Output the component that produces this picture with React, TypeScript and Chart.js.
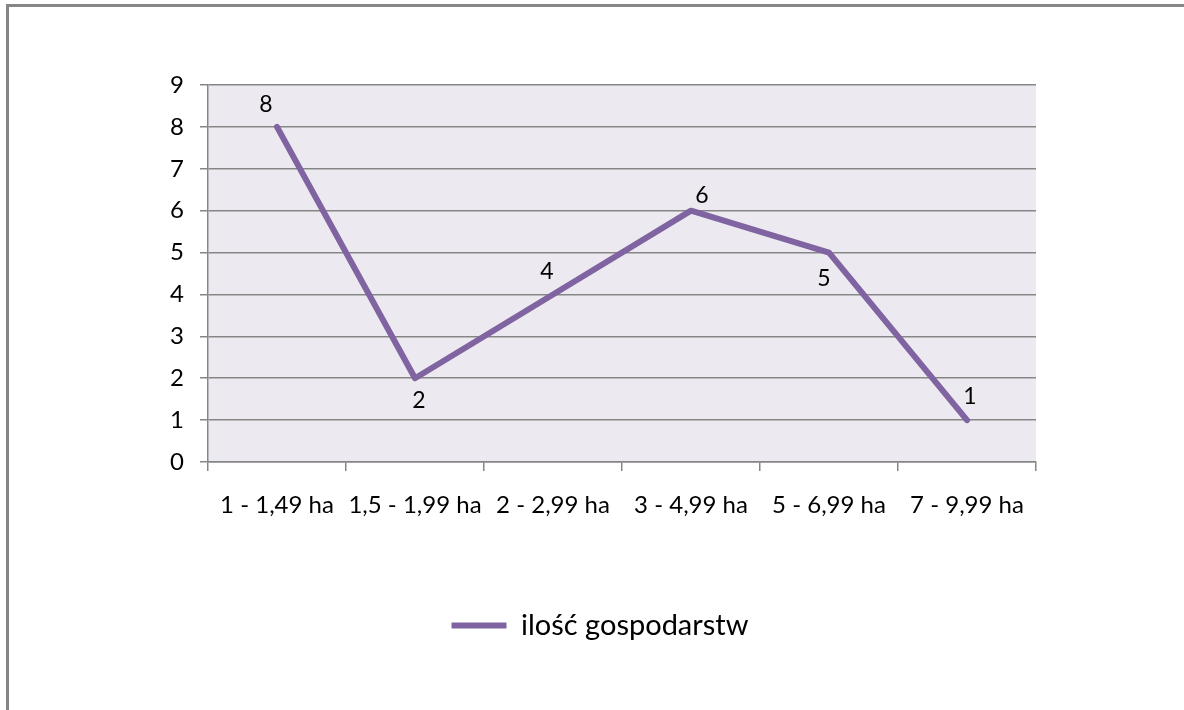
import React, { useEffect, useRef } from "react";
import { Chart, registerables } from "chart.js";

Chart.register(...registerables);

const categories = ["1 - 1,49 ha", "1,5 - 1,99 ha", "2 - 2,99 ha", "3 - 4,99 ha", "5 - 6,99 ha", "7 - 9,99 ha"];
const values = [8, 2, 4, 6, 5, 1];
const seriesName = "ilość gospodarstw";
const yTicks = [0, 1, 2, 3, 4, 5, 6, 7, 8, 9];

// label offsets (style only) relative to each point
const labelOffsets: [number, number][] = [
  [-11, -22],
  [4, 22],
  [-6, -23],
  [11, -15],
  [-5, 26],
  [3, -24],
];

const FONT = "Lato, 'Liberation Sans', sans-serif";
const LINE = "#8064A2";
const GRID = "#868686";
const PLOT_BG = "#ECEAF0";

const plotBg = {
  id: "plotBg",
  beforeDraw(chart: any) {
    const { ctx, chartArea } = chart;
    ctx.save();
    ctx.fillStyle = PLOT_BG;
    ctx.fillRect(chartArea.left, chartArea.top, chartArea.right - chartArea.left, chartArea.bottom - chartArea.top);
    ctx.restore();
  },
};

const dataLabels = {
  id: "dataLabels",
  afterDatasetsDraw(chart: any) {
    const { ctx } = chart;
    const meta = chart.getDatasetMeta(0);
    ctx.save();
    ctx.font = `23px ${FONT}`;
    ctx.fillStyle = "#000";
    ctx.textAlign = "center";
    ctx.textBaseline = "middle";
    meta.data.forEach((pt: any, i: number) => {
      const [dx, dy] = labelOffsets[i];
      ctx.fillText(String(chart.data.datasets[0].data[i]), pt.x + dx, pt.y + dy);
    });
    ctx.restore();
  },
};

export default function App() {
  const ref = useRef<HTMLCanvasElement>(null);
  useEffect(() => {
    document.body.style.margin = "0";
    document.body.style.overflow = "hidden";
    const chart = new Chart(ref.current!, {
      type: "line",
      data: {
        labels: categories,
        datasets: [
          {
            label: seriesName,
            data: values,
            borderColor: LINE,
            backgroundColor: LINE,
            borderWidth: 6,
            borderCapStyle: "round",
            borderJoinStyle: "round",
            pointRadius: 0,
            pointHoverRadius: 0,
            tension: 0,
            yAxisID: "y",
          },
        ],
      },
      options: {
        animation: false,
        responsive: false,
        layout: { padding: { left: 16, top: 85, right: 0, bottom: 60 } },
        plugins: {
          tooltip: { enabled: false },
          legend: {
            position: "bottom",
            labels: {
              usePointStyle: true,
              pointStyle: "line",
              pointStyleWidth: 55,
              padding: 7,
              color: "#000",
              font: { family: FONT, size: 29 },
            },
          },
        },
        scales: {
          x: {
            offset: true,
            grid: { offset: true, drawOnChartArea: false, drawTicks: true, tickLength: 9, color: GRID, lineWidth: 1.5 },
            border: { display: true, color: GRID, width: 1.5 },
            ticks: { color: "#000", font: { family: FONT, size: 24 }, padding: 20, maxRotation: 0, autoSkip: false },
            afterFit: (s: any) => {
              s.height = 142;
            },
          },
          y: {
            min: 0,
            max: 9,
            afterBuildTicks: (s: any) => {
              s.ticks = yTicks.map((v) => ({ value: v }));
            },
            grid: { color: GRID, lineWidth: 1.5, tickLength: 8 },
            border: { display: true, color: GRID, width: 1.5 },
            ticks: { color: "#000", font: { family: FONT, size: 24 }, padding: 16 },
            afterFit: (s: any) => {
              s.width = 192;
            },
          },
          yRight: {
            position: "right",
            min: 0,
            max: 9,
            grid: { display: false, drawOnChartArea: false },
            border: { display: false },
            ticks: { display: false },
            afterFit: (s: any) => {
              s.width = 148;
            },
          },
        },
      },
      plugins: [plotBg, dataLabels],
    });
    return () => chart.destroy();
  }, []);
  return (
    <div style={{ position: "fixed", left: 0, top: 0, width: 1184, height: 710, overflow: "hidden", background: "#fff" }}>
      <div
        style={{
          position: "absolute",
          left: 6,
          top: 4,
          width: 1300,
          height: 900,
          borderLeft: "3px solid #868686",
          borderTop: "3px solid #868686",
        }}
      />
      <canvas ref={ref} width={1184} height={710} style={{ position: "absolute", left: 0, top: 0 }} />
    </div>
  );
}
